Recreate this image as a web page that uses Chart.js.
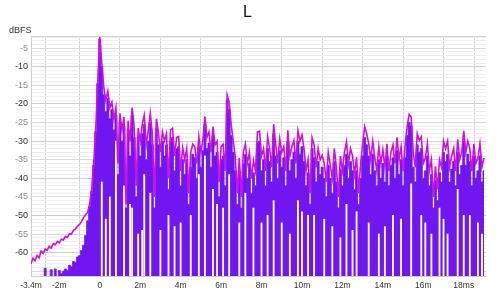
<!DOCTYPE html>
<html lang="en">
  <head>
    <meta charset="UTF-8" />
    <title>L</title>
    <script src="https://cdn.jsdelivr.net/npm/chart.js"></script>
    <style>
      html, body { margin: 0; padding: 0; background: #fff; }
      #irChart { display: block; }
    </style>
  </head>
  <body>
    <canvas id="irChart" width="500" height="293"></canvas>

    <script>
      // sample clock: 0.1 ms steps starting at -3.4 ms
      var startMs = -3.4;
      var stepMs = 0.1;

      // magenta trace (dBFS)
      var magenta = [
        -63.0, -61.5, -62.2, -60.8, -61.4, -59.6, -60.2, -59.0, -59.4, -58.3,
        -58.8, -57.6, -57.9, -57.0, -57.4, -56.4, -56.6, -55.6, -55.9, -54.9,
        -55.0, -54.0, -53.6, -52.9, -52.4, -51.6, -50.6, -49.8, -49.2, -47.0,
        -43.0, -36.0, -27.0, -14.0,
        -2, -9, -15.5, -19, -16.5, -21, -19.5, -24, -21, -36,
        -22.5, -27, -23.5, -47, -24.5, -30, -21, -26, -42, -26.5,
        -30, -25.5, -23, -31, -27, -22.5, -28, -45, -24, -27.5,
        -33, -27.5, -30, -28, -40, -27, -26.5, -34, -29, -28.8,
        -38, -31.8, -35, -32, -44, -33, -30.8, -31.5, -36, -28.8,
        -33, -29.7, -23.4, -29, -27.5, -33, -26.1, -31, -30, -41,
        -31.5, -30.8, -38, -17.6, -19.5, -25.6, -30, -34.2, -44, -34.5,
        -45, -33, -30.7, -36, -33, -40, -35.2, -38, -27.5, -27.3,
        -34, -32, -38, -28.8, -32, -37, -25.4, -30.8, -36, -29.4,
        -33, -31.5, -38, -27.1, -34, -31.5, -29.8, -36, -27.2, -30,
        -28.3, -32, -38, -35, -44, -29.1, -31, -37, -32, -35,
        -33.8, -36, -41, -33, -36.5, -40, -32, -37, -45, -34,
        -38, -33, -30.2, -36, -32, -34, -39, -34.3, -44, -36,
        -30.7, -26.1, -28, -30.7, -35, -30, -34.3, -38, -31.5, -36,
        -32.3, -37, -30.7, -38, -33, -31, -36, -29, -35, -31.5,
        -38, -31, -26, -22.8, -23.5, -33, -37, -28, -29.8, -28.8,
        -36, -34.5, -30.7, -38, -35, -45, -36.8, -43, -35, -37,
        -30, -32, -30, -37, -34, -32, -38, -29.5, -35, -33,
        -27.2, -33, -30, -32, -38, -30.7, -36, -34.5, -30.7, -37,
        -34.5
      ];

      // purple trace, top of each sample (dBFS)
      var purple = [
        -70, -70, -70, -70, -70, -70, -70, -64.2, -70, -70,
        -64.6, -70, -64.4, -70, -64.8, -65.6, -65.0, -64.4, -64.8, -63.4,
        -63.8, -62.4, -62.6, -61.2, -60.8, -59.4, -58.0, -55.4, -51.4, -47.6,
        -43.5, -36.5, -27.5, -14.5,
        -2.5, -10, -17.5, -22, -18.5, -24, -21.5, -27, -23, -39,
        -25, -30, -26, -48, -27, -34, -23, -29, -45, -29,
        -34, -28, -25.5, -35, -30, -25, -31, -48, -26.5, -31,
        -37, -30, -34, -31, -43, -30, -29, -38, -32, -31.5,
        -42, -35, -39, -35, -47, -37, -33.5, -34.5, -40, -31.5,
        -37, -32.5, -25.5, -32, -30.5, -37, -28.5, -34, -33, -45,
        -35, -34, -42, -19, -21.5, -28.5, -33, -38, -47, -38,
        -48, -36, -33.5, -40, -36, -44, -38.5, -42, -30.5, -30,
        -38, -35, -42, -32, -35.5, -41, -28, -34, -40, -32.5,
        -37, -34.5, -42, -30, -38, -35, -33, -40, -30, -33.5,
        -31.5, -35.5, -42, -38.5, -47, -32, -34.5, -41, -35.5, -39,
        -37, -40, -45, -36.5, -40, -44, -35.5, -41, -48, -37.5,
        -42, -36.5, -33.5, -40, -35.5, -38, -43, -38, -47, -40,
        -34, -29, -31, -34, -39, -33.5, -38, -42, -35, -40,
        -36, -41, -34, -42, -36.5, -34.5, -40, -32.5, -39, -35,
        -42, -34.5, -28.5, -25, -26, -37, -41, -31, -33, -32,
        -40, -38, -34, -42, -39, -48, -40.5, -46, -38.5, -41,
        -33, -35.5, -33.5, -41, -37.5, -35.5, -42, -33, -39, -36.5,
        -30, -36.5, -33.5, -35.5, -42, -34, -40, -38, -34, -41,
        -38
      ];

      // samples where the purple trace does not reach the floor (time ms, lowest dBFS)
      var gapTimes = [0.1, 0.3, 0.5, 0.8, 1.2, 1.5, 1.6, 1.9, 2.1, 2.2, 2.5, 3.0, 3.4, 3.7,
        4.0, 4.5, 4.9, 5.2, 5.6, 5.8, 6.1, 6.4, 6.9, 7.2, 7.6, 8.0, 8.3, 8.6, 9.0,
        9.4, 9.8, 10.0, 10.3, 10.6, 11.1, 11.5, 11.9, 12.2, 12.5, 12.7, 13.3, 13.8,
        14.1, 14.5, 14.9, 15.4, 15.9, 16.1, 16.4, 16.8, 17.0, 17.2, 17.7, 18.0,
        18.3, 18.7, 18.9];
      var gapLows = [-41, -51, -45, -30, -42, -47, -48, -55, -54, -39, -44, -54, -50, -53,
        -52, -50, -39, -34, -43, -47, -48, -39, -52, -44, -48, -52, -50, -46, -52,
        -55, -46, -49, -50, -50, -51, -53, -56, -47, -54, -49, -52, -55,
        -53, -50, -51, -41.5, -50, -52, -55, -48, -51, -55, -43, -50,
        -50, -52, -55];

      var xTicks = [-3.4, -2, 0, 2, 4, 6, 8, 10, 12, 14, 16, 18];
      var xTickLabels = ["-3.4m", "-2m", "0", "2m", "4m", "6m", "8m", "10m", "12m", "14m", "16m", "18ms"];
      var xMin = -3.4, xMax = 19.1;
      var yMin = -66.3, yMax = -1.7;
      var floorDb = -80;

      var times = magenta.map(function (_, i) { return +(startMs + i * stepMs).toFixed(2); });

      var purpleArea = purple.map(function (v, i) { return { x: times[i], y: v }; });
      var magentaLine = magenta.map(function (v, i) { return { x: times[i], y: v }; });
      var gapBars = gapTimes.map(function (t, k) { return { x: t, y: [floorDb, gapLows[k]] }; });

      var unitLabel = {
        id: "unitLabel",
        afterDraw: function (chart) {
          var c = chart.ctx;
          c.save();
          c.font = '9px "Liberation Sans", Arial, sans-serif';
          c.fillStyle = "#333";
          c.textAlign = "left";
          c.textBaseline = "alphabetic";
          c.fillText("dBFS", 9, 33);
          c.restore();
        }
      };

      var ctx = document.getElementById("irChart").getContext("2d");
      var irChart = new Chart(ctx, {
        type: "line",
        data: {
          datasets: [
            {
              label: "magenta",
              data: magentaLine,
              borderColor: "rgb(208, 16, 222)",
              borderWidth: 1.6,
              pointRadius: 0,
              tension: 0,
              fill: false,
              order: 0
            },
            {
              type: "bar",
              label: "gaps",
              data: gapBars,
              backgroundColor: "#ffffff",
              borderWidth: 0,
              barThickness: 1.2,
              order: 1
            },
            {
              label: "purple",
              data: purpleArea,
              stepped: "middle",
              borderColor: "rgb(112, 22, 240)",
              borderWidth: 0.8,
              backgroundColor: "rgb(112, 22, 240)",
              fill: "start",
              pointRadius: 0,
              order: 2
            }
          ]
        },
        plugins: [unitLabel],
        options: {
          responsive: false,
          animation: false,
          layout: { padding: { left: 9, right: 14, top: 3, bottom: 0 } },
          plugins: {
            legend: { display: false },
            tooltip: { enabled: false },
            title: {
              display: true,
              text: "L",
              color: "#111",
              font: { family: "Liberation Sans", size: 16, weight: "normal" },
              padding: { top: 0, bottom: 13.8 }
            }
          },
          scales: {
            x: {
              type: "linear",
              min: xMin,
              max: xMax,
              offset: false,
              afterBuildTicks: function (scale) {
                scale.ticks = xTicks.concat([xMax]).map(function (v) { return { value: v }; });
              },
              afterFit: function (scale) { scale.height = 17; },
              ticks: {
                autoSkip: false,
                maxRotation: 0,
                padding: 5,
                color: "#333",
                font: { family: "Liberation Sans", size: 8.5 },
                callback: function (v) {
                  var k = xTicks.indexOf(v);
                  return k < 0 ? "" : xTickLabels[k];
                }
              },
              grid: { color: "#d2d2d2", drawTicks: false },
              border: { color: "#cfcfcf" }
            },
            y: {
              min: yMin,
              max: yMax,
              afterBuildTicks: function (scale) {
                var t = [];
                for (var v = -66; v <= -2; v++) t.push({ value: v });
                t.push({ value: yMax });
                scale.ticks = t;
              },
              afterFit: function (scale) { scale.width = 22; },
              ticks: {
                autoSkip: false,
                padding: 3,
                font: { family: "Liberation Sans", size: 9 },
                color: function (c) { return c.tick.value % 10 === 0 ? "#333" : "#8a8a8a"; },
                callback: function (v) {
                  return (v % 5 === 0 && v >= -60 && v <= -5) ? String(v) : "";
                }
              },
              grid: {
                drawTicks: false,
                color: function (c) {
                  var v = c.tick.value;
                  if (v === yMax) return "#d2d2d2";
                  if (v % 10 === 0) return "#cdcdcd";
                  if (v % 5 === 0) return "#dadada";
                  return "#eeeeee";
                }
              },
              border: { color: "#cfcfcf" }
            }
          }
        }
      });
    </script>
  </body>
</html>
